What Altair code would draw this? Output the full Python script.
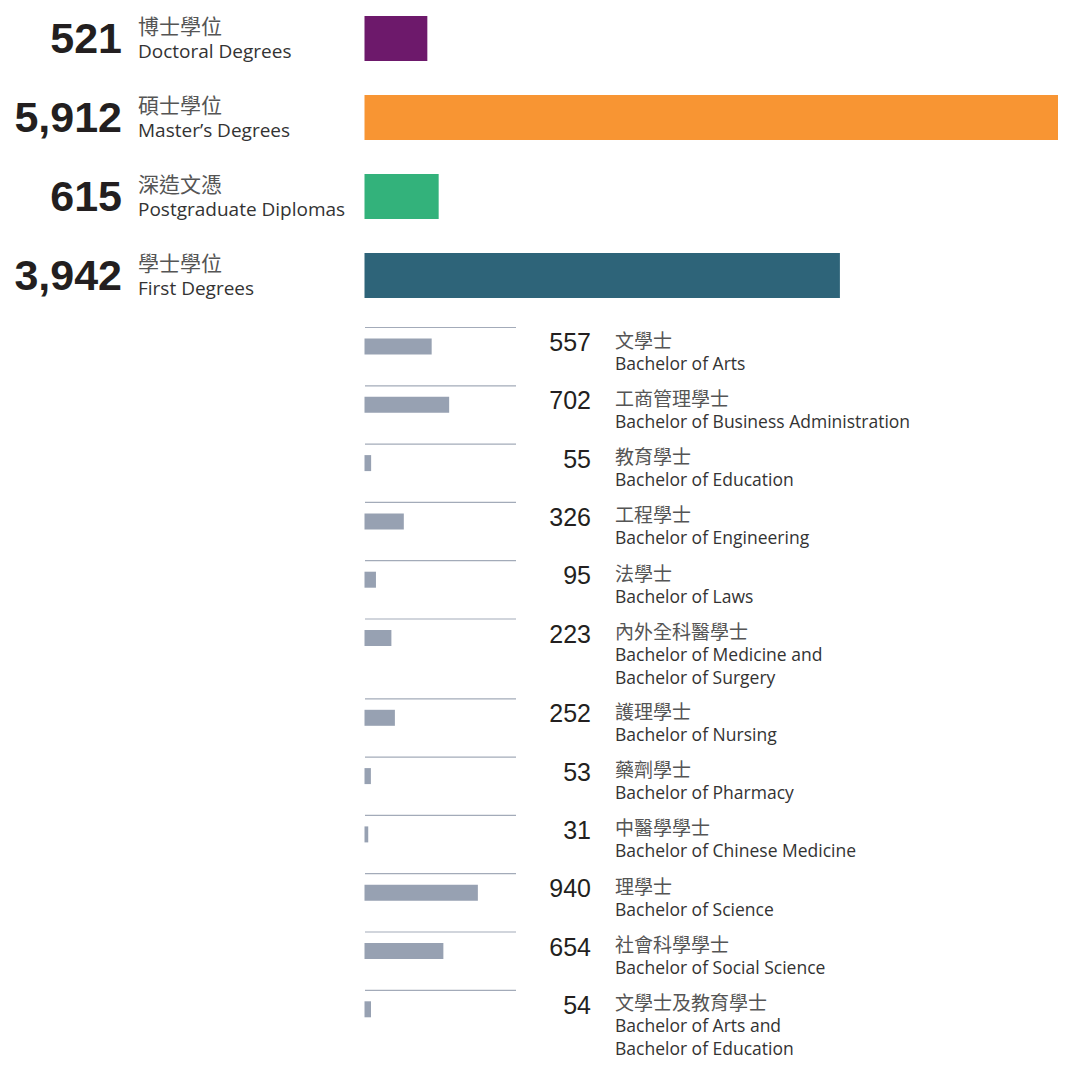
import altair as alt
import pandas as pd

# ---- data ----
top_values = [521, 5912, 615, 3942]
top_zh = ["博士學位", "碩士學位", "深造文憑", "學士學位"]
top_en = ["Doctoral Degrees", "Master’s Degrees", "Postgraduate Diplomas", "First Degrees"]
top_colors = ["#6d196b", "#f89533", "#33b27b", "#2e6479"]

bach_values = [557, 702, 55, 326, 95, 223, 252, 53, 31, 940, 654, 54]
bach_zh = ["文學士", "工商管理學士", "教育學士", "工程學士", "法學士", "內外全科醫學士",
           "護理學士", "藥劑學士", "中醫學學士", "理學士", "社會科學學士", "文學士及教育學士"]
bach_en = ["Bachelor of Arts", "Bachelor of Business Administration", "Bachelor of Education",
           "Bachelor of Engineering", "Bachelor of Laws",
           "Bachelor of Medicine and\nBachelor of Surgery",
           "Bachelor of Nursing", "Bachelor of Pharmacy", "Bachelor of Chinese Medicine",
           "Bachelor of Science", "Bachelor of Social Science",
           "Bachelor of Arts and\nBachelor of Education"]

# ---- layout (pixels) ----
W, H = 1050, 1052
PX_PER_UNIT = 0.1206
X0 = 356.5
TOP_FIRST, TOP_PITCH, TOP_BAR = 30.5, 79, 45
BOT_FIRST, BOT_ROW, BOT_LINE = 319.5, 58.3, 21.5

top = pd.DataFrame({
    "value": top_values,
    "label": [f"{v:,}" for v in top_values],
    "zh": top_zh, "en": top_en, "color": top_colors,
})
top["yc"] = [TOP_FIRST + TOP_PITCH * i for i in range(len(top))]
top["y0"] = top["yc"] - TOP_BAR / 2
top["y1"] = top["yc"] + TOP_BAR / 2

bot = pd.DataFrame({"value": bach_values, "zh": bach_zh, "en": bach_en})
bot["label"] = [f"{v:,}" for v in bach_values]
nlines = [1 + e.count("\n") for e in bach_en]
tops, acc = [], BOT_FIRST
for n in nlines:
    tops.append(acc)
    acc += BOT_ROW + BOT_LINE * (n - 1)
bot["r"] = tops
bot["b0"] = bot["r"] + 11
bot["b1"] = bot["r"] + 27

xs = alt.Scale(domain=[0, 5912], range=[X0, X0 + PX_PER_UNIT * 5912])
ys = alt.Scale(domain=[0, H], range=[0, H])


def Y(f):
    return alt.Y(f"{f}:Q", scale=ys, axis=None)


num_font = "Liberation Sans"
en_font = "Open Sans"
zh_font = "Noto Sans CJK TC"

base_top = alt.Chart(top)
top_bars = base_top.mark_rect(clip=True).encode(
    x=alt.X("zero:Q", scale=xs, axis=None), x2="value:Q",
    y=Y("y0"), y2="y1",
    color=alt.Color("color:N", scale=None),
).transform_calculate(zero="0")
top_num = base_top.mark_text(align="right", baseline="alphabetic", dy=14.5,
                             font=num_font, fontWeight="bold", fontSize=43,
                             color="#231f20").encode(
    x=alt.value(114), y=Y("yc"), text="label:N")
top_zh_t = base_top.mark_text(align="left", baseline="alphabetic", dy=-5,
                              font=zh_font, fontSize=21, color="#555555").encode(
    x=alt.value(130), y=Y("yc"), text="zh:N")
top_en_t = base_top.mark_text(align="left", baseline="alphabetic", dy=19.5,
                              font=en_font, fontSize=19, color="#333333").encode(
    x=alt.value(130), y=Y("yc"), text="en:N")

base_bot = alt.Chart(bot)
rules = base_bot.mark_rule(color="#a3abb9", strokeWidth=1.2).encode(
    x=alt.value(357), x2=alt.value(508), y=Y("r"))
bars = base_bot.mark_rect(color="#97a1b2").encode(
    x=alt.X("zero:Q", scale=xs, axis=None), x2="value:Q",
    y=Y("b0"), y2="b1",
).transform_calculate(zero="0")
bnum = base_bot.mark_text(align="right", baseline="alphabetic", dy=23.5,
                          font=num_font, fontSize=25, color="#231f20").encode(
    x=alt.value(583), y=Y("r"), text="label:N")
bzh = base_bot.mark_text(align="left", baseline="alphabetic", dy=20,
                         font=zh_font, fontSize=19, color="#555555").encode(
    x=alt.value(607), y=Y("r"), text="zh:N")
ben = base_bot.mark_text(align="left", baseline="alphabetic", dy=42,
                         font=en_font, fontSize=17.5, color="#333333",
                         lineBreak="\n", lineHeight=23).encode(
    x=alt.value(607), y=Y("r"), text="en:N")

chart = alt.layer(top_bars, top_num, top_zh_t, top_en_t,
                  rules, bars, bnum, bzh, ben).properties(
    width=W, height=H, padding=0, autosize=alt.AutoSizeParams(type="none"),
).configure_view(stroke=None)

chart.save("out.html", embed_options={"renderer": "svg", "actions": False})
